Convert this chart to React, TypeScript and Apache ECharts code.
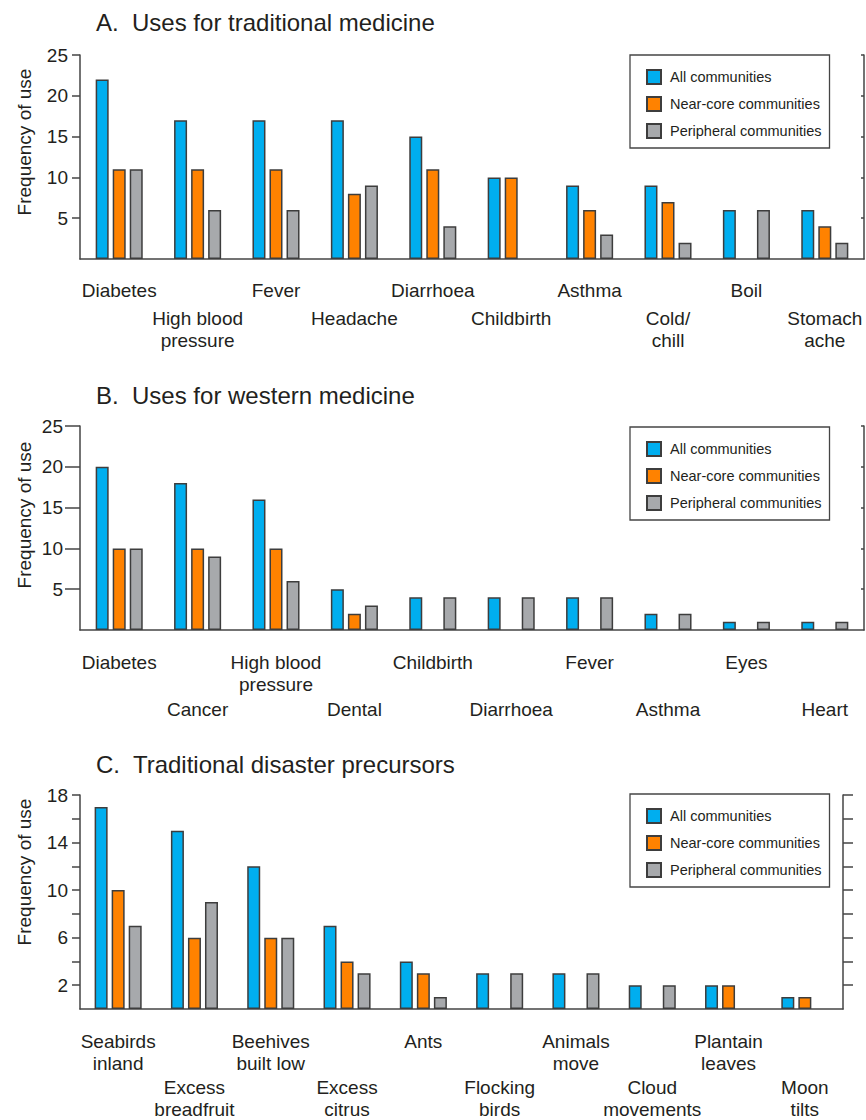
import { useEffect, useRef } from "react";
import * as echarts from "echarts";

// Series shared by all three panels
const seriesNames = ["All communities", "Near-core communities", "Peripheral communities"];
const seriesColors = ["#00aeef", "#ff8200", "#a7a9ac"];

// A. Uses for traditional medicine
const traditionalUses = [
  "Diabetes", "High blood\npressure", "Fever", "Headache", "Diarrhoea",
  "Childbirth", "Asthma", "Cold/\nchill", "Boil", "Stomach\nache",
];
const traditionalAll = [22, 17, 17, 17, 15, 10, 9, 9, 6, 6];
const traditionalNearCore = [11, 11, 11, 8, 11, 10, 6, 7, null, 4];
const traditionalPeripheral = [11, 6, 6, 9, 4, null, 3, 2, 6, 2];

// B. Uses for western medicine
const westernUses = [
  "Diabetes", "Cancer", "High blood\npressure", "Dental", "Childbirth",
  "Diarrhoea", "Fever", "Asthma", "Eyes", "Heart",
];
const westernAll = [20, 18, 16, 5, 4, 4, 4, 2, 1, 1];
const westernNearCore = [10, 10, 10, 2, null, null, null, null, null, null];
const westernPeripheral = [10, 9, 6, 3, 4, 4, 4, 2, 1, 1];

// C. Traditional disaster precursors
const precursors = [
  "Seabirds\ninland", "Excess\nbreadfruit", "Beehives\nbuilt low", "Excess\ncitrus", "Ants",
  "Flocking\nbirds", "Animals\nmove", "Cloud\nmovements", "Plantain\nleaves", "Moon\ntilts",
];
const precursorAll = [17, 15, 12, 7, 4, 3, 3, 2, 2, 1];
const precursorNearCore = [10, 6, 6, 4, 3, null, null, null, 2, 1];
const precursorPeripheral = [7, 9, 6, 3, 1, 3, 3, 2, null, null];

// Y-axis ticks and labels
const medicineTicks = [5, 10, 15, 20, 25];
const medicineLabels = [5, 10, 15, 20, 25];
const precursorTicks = [2, 4, 6, 8, 10, 12, 14, 16, 18];
const precursorLabels = [2, 6, 10, 14, 18];

const panelTitles = [
  "A.  Uses for traditional medicine",
  "B.  Uses for western medicine",
  "C.  Traditional disaster precursors",
];
const yAxisName = "Frequency of use";

const FONT = "'Liberation Sans', Arial, Helvetica, sans-serif";
const TEXT = "#231f20";
const AXIS = "#454545";
const BORDER = "#3d3d3d";

export default function App() {
  const ref = useRef<HTMLDivElement>(null);

  useEffect(() => {
    if (!ref.current) return;
    document.body.style.margin = "0";
    const chart = echarts.init(ref.current, undefined, { renderer: "svg" });

    const panels = [
      {
        categories: traditionalUses,
        values: [traditionalAll, traditionalNearCore, traditionalPeripheral],
        grid: { left: 80, top: 55, width: 784, height: 204 },
        max: 25, interval: 5,
        ticks: medicineTicks, labels: medicineLabels,
        tickLen: 8, labelMargin: 12,
        rightTick: { inside: true, length: 3 },
        catMargin: 20, drop: 28,
        titleTop: 8, legendTop: 55, nameY: 142,
      },
      {
        categories: westernUses,
        values: [westernAll, westernNearCore, westernPeripheral],
        grid: { left: 80, top: 426, width: 784, height: 204 },
        max: 25, interval: 5,
        ticks: medicineTicks, labels: medicineLabels,
        tickLen: 15, labelMargin: 17,
        rightTick: { inside: true, length: 3 },
        catMargin: 21, drop: 47,
        titleTop: 381, legendTop: 427, nameY: 515,
      },
      {
        categories: precursors,
        values: [precursorAll, precursorNearCore, precursorPeripheral],
        grid: { left: 80, top: 795, width: 763, height: 214 },
        max: 18, interval: 2,
        ticks: precursorTicks, labels: precursorLabels,
        tickLen: 8, labelMargin: 12,
        rightTick: { inside: false, length: 10 },
        catMargin: 21, drop: 46,
        titleTop: 750, legendTop: 794, nameY: 872,
      },
    ];

    const axisLine = { show: true, lineStyle: { color: AXIS, width: 1.5 } };

    const option: any = {
      animation: false,
      backgroundColor: "#ffffff",
      textStyle: { fontFamily: FONT },
      title: panels.map((p, i) => ({
        text: panelTitles[i],
        left: 96,
        top: p.titleTop,
        padding: 0,
        textStyle: { fontFamily: FONT, fontSize: 24, fontWeight: "normal", color: TEXT, lineHeight: 28 },
      })),
      legend: panels.map((p) => ({
        data: seriesNames,
        orient: "vertical",
        left: 630,
        top: p.legendTop,
        padding: [14, 8, 9, 16],
        itemGap: 11,
        itemWidth: 14,
        itemHeight: 14,
        icon: "rect",
        borderColor: AXIS,
        borderWidth: 1.3,
        selectedMode: false,
        textStyle: { fontFamily: FONT, fontSize: 14.5, color: TEXT, lineHeight: 14, padding: [0, 0, 0, 4] },
      })),
      grid: panels.map((p) => ({ ...p.grid, containLabel: false })),
      xAxis: panels.map((p, i) => ({
        gridIndex: i,
        type: "category",
        data: p.categories,
        axisLine: { ...axisLine, onZero: false },
        axisTick: { show: false },
        axisLabel: {
          interval: 0,
          margin: p.catMargin,
          fontFamily: FONT,
          fontSize: 19,
          lineHeight: 22,
          color: TEXT,
          formatter: (v: string, idx: number) => (idx % 2 === 0 ? v : `{gap| }\n${v}`),
          rich: { gap: { fontSize: 1, lineHeight: p.drop, height: p.drop } },
        },
      })),
      yAxis: panels.flatMap((p, i) => [
        {
          gridIndex: i,
          type: "value",
          position: "left",
          min: 0,
          max: p.max,
          interval: p.interval,
          splitLine: { show: false },
          axisLine,
          axisTick: {
            show: true,
            length: p.tickLen,
            customValues: p.ticks,
            lineStyle: { color: AXIS, width: 1.5 },
          },
          axisLabel: {
            margin: p.labelMargin,
            fontFamily: FONT,
            fontSize: 19,
            color: TEXT,
            customValues: p.labels,
          },
        },
        {
          gridIndex: i,
          type: "value",
          position: "right",
          min: 0,
          max: p.max,
          interval: p.interval,
          splitLine: { show: false },
          axisLine,
          axisTick: {
            show: true,
            inside: p.rightTick.inside,
            length: p.rightTick.length,
            customValues: p.ticks,
            lineStyle: { color: AXIS, width: 1.5 },
          },
          axisLabel: { show: false },
        },
      ]),
      series: panels.flatMap((p, i) =>
        p.values.map((vals, s) => ({
          type: "bar",
          name: seriesNames[s],
          xAxisIndex: i,
          yAxisIndex: i * 2,
          data: vals,
          barWidth: 13,
          barGap: "31%",
          itemStyle: { color: seriesColors[s], borderColor: BORDER, borderWidth: 1.5 },
        }))
      ),
      graphic: panels.map((p) => ({
        type: "text",
        x: 24,
        y: p.nameY,
        rotation: Math.PI / 2,
        style: {
          text: yAxisName,
          fontFamily: FONT,
          fontSize: 19,
          fill: TEXT,
          align: "center",
          verticalAlign: "middle",
        },
      })),
    };

    chart.setOption(option);
    return () => chart.dispose();
  }, []);

  return (
    <div
      ref={ref}
      style={{ position: "absolute", left: 0, top: 0, width: 866, height: 1120 }}
    />
  );
}
